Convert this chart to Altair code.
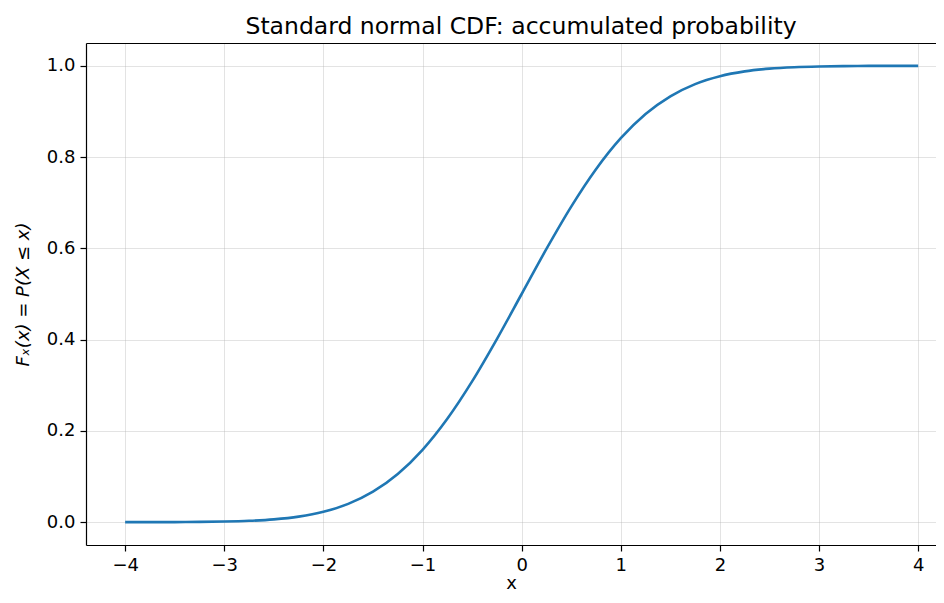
import altair as alt
import pandas as pd

xs = [-4.0, -3.75, -3.5, -3.25, -3.0, -2.75, -2.5, -2.25, -2.0, -1.75, -1.5, -1.25,
      -1.0, -0.75, -0.5, -0.25, 0.0, 0.25, 0.5, 0.75, 1.0, 1.25, 1.5, 1.75,
      2.0, 2.25, 2.5, 2.75, 3.0, 3.25, 3.5, 3.75, 4.0]
cdf = [0.00003, 0.00009, 0.00023, 0.00058, 0.00135, 0.00298, 0.00621, 0.01222,
       0.02275, 0.04006, 0.06681, 0.10565, 0.15866, 0.22663, 0.30854, 0.40129,
       0.5, 0.59871, 0.69146, 0.77337, 0.84134, 0.89435, 0.93319, 0.95994,
       0.97725, 0.98778, 0.99379, 0.99702, 0.99865, 0.99942, 0.99977, 0.99991, 0.99997]
x_ticks = [-4, -3, -2, -1, 0, 1, 2, 3, 4]
y_ticks = [0.0, 0.2, 0.4, 0.6, 0.8, 1.0]

df = pd.DataFrame({"x": xs, "F": cdf})

FONT = "DejaVu Sans"
LBL = 18

base = alt.Chart(df)

line = base.mark_line(color="#1f77b4", strokeWidth=2.6, interpolate="monotone", clip=True).encode(
    x=alt.X("x:Q",
            scale=alt.Scale(domain=[-4.395, 4.18], nice=False, zero=False),
            axis=alt.Axis(values=x_ticks, format="d", title="x", grid=True,
                          gridColor="#b0b0b0", gridOpacity=0.35, gridWidth=1,
                          domainColor="black", domainWidth=1.2,
                          tickColor="black", tickSize=6, tickWidth=1.2,
                          labelFont=FONT, labelFontSize=LBL, labelColor="black", labelPadding=5,
                          titleFont=FONT, titleFontSize=LBL, titleFontWeight="normal",
                          titleColor="black", titlePadding=0)),
    y=alt.Y("F:Q",
            scale=alt.Scale(domain=[-0.05, 1.05], nice=False, zero=False),
            axis=alt.Axis(values=y_ticks, format=".1f", title="Fₓ(x) = P(X ≤ x)", grid=True,
                          gridColor="#b0b0b0", gridOpacity=0.35, gridWidth=1,
                          domainColor="black", domainWidth=1.2,
                          tickColor="black", tickSize=6, tickWidth=1.2,
                          labelFont=FONT, labelFontSize=LBL, labelColor="black", labelPadding=5,
                          titleFont=FONT, titleFontSize=LBL, titleFontWeight="normal",
                          titleFontStyle="italic", titleColor="black", titlePadding=14)),
)

top = base.mark_point(opacity=0).encode(
    x=alt.X("x:Q", axis=alt.Axis(orient="top", labels=False, ticks=False, grid=False,
                                 title=None, domainColor="black", domainWidth=1.2)),
)

chart = alt.layer(line, top).resolve_axis(x="independent").properties(
    width=850,
    height=502,
    title=alt.TitleParams("Standard normal CDF: accumulated probability",
                          font=FONT, fontSize=23.5, fontWeight="normal",
                          color="black", anchor="middle", dx=10, offset=5),
    autosize=alt.AutoSizeParams(type="none"),
    padding={"left": 78, "top": 35, "right": 0, "bottom": 50},
).configure_view(stroke=None)

chart.save("out.html", embed_options={"renderer": "svg", "actions": False})
